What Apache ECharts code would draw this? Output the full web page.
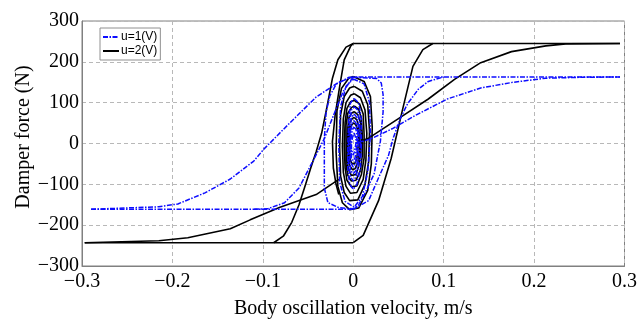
<!DOCTYPE html>
<html>
<head>
<meta charset="utf-8">
<script src="https://cdn.jsdelivr.net/npm/echarts@6/dist/echarts.min.js"></script>
<style>
  html, body { margin: 0; padding: 0; background: #fff; }
  #chart { width: 640px; height: 324px; }
</style>
</head>
<body>
<div id="chart"></div>
<script>
// Damper force vs. body oscillation velocity for two control voltages.
const seriesNames = ['u=1(V)', 'u=2(V)'];
const xTicks = [-0.3, -0.2, -0.1, 0, 0.1, 0.2, 0.3];
const yTicks = [-300, -200, -100, 0, 100, 200, 300];

// u = 2 V branches (velocity m/s, force N)
const blackStart = [[0.003, 2], [0.017, 13], [0.05, 61], [0.083, 109], [0.112, 157], [0.141, 198], [0.175, 225], [0.213, 239], [0.235, 244], [0.295, 245]];
const blackTop = [[0.295, 245], [0, 245]];
const blackFallOuter = [[0, 245], [-0.008, 236], [-0.017, 205], [-0.023, 160], [-0.029, 90], [-0.035, 25], [-0.041, -20], [-0.047, -60], [-0.054, -109], [-0.060, -150], [-0.068, -193], [-0.077, -226], [-0.088, -243]];
const blackFallInner = [[0, 245], [-0.003, 238], [-0.010, 205], [-0.015, 140], [-0.020, 70], [-0.023, 5], [-0.022, -60], [-0.019, -100], [-0.016, -125]];
const blackBottom = [[-0.297, -243], [0, -243]];
const blackRiseOuter = [[0, -243], [0.011, -225], [0.028, -140], [0.042, -36], [0.054, 78], [0.066, 189], [0.077, 230], [0.088, 245]];
const blackReturn = [[-0.297, -243], [-0.215, -238], [-0.183, -231], [-0.136, -209], [-0.114, -187], [-0.081, -156], [-0.041, -125], [-0.016, -88]];
const blackCoreLoops = [
  [[0, 164], [0.012, 152], [0.019, 115], [0.021, 40], [0.020, -50], [0.016, -115], [0.006, -158], [-0.004, -162], [-0.012, -145], [-0.017, -105], [-0.019, -20], [-0.018, 80], [-0.013, 135], [-0.005, 160], [0, 164]],
  [[0.001, 140], [0.010, 128], [0.016, 95], [0.018, 30], [0.017, -45], [0.013, -100], [0.005, -138], [-0.004, -140], [-0.010, -120], [-0.014, -80], [-0.015, -10], [-0.014, 70], [-0.010, 115], [-0.004, 136], [0.001, 140]],
  [[0.001, 122], [0.008, 112], [0.013, 82], [0.015, 25], [0.014, -40], [0.011, -88], [0.004, -120], [-0.003, -122], [-0.008, -105], [-0.011, -70], [-0.012, -8], [-0.011, 60], [-0.008, 100], [-0.003, 118], [0.001, 122]],
  [[0.001, 106], [0.007, 97], [0.011, 72], [0.012, 22], [0.012, -35], [0.009, -76], [0.004, -104], [-0.002, -106], [-0.007, -90], [-0.009, -60], [-0.010, -6], [-0.009, 52], [-0.007, 86], [-0.003, 102], [0.001, 106]],
  [[0.001, 92], [0.006, 84], [0.009, 62], [0.010, 20], [0.010, -30], [0.008, -66], [0.003, -90], [-0.002, -92], [-0.006, -78], [-0.008, -52], [-0.008, -5], [-0.008, 45], [-0.006, 74], [-0.002, 88], [0.001, 92]],
  [[0.001, 78], [0.005, 71], [0.008, 52], [0.009, 16], [0.008, -26], [0.006, -56], [0.003, -76], [-0.002, -78], [-0.005, -66], [-0.007, -44], [-0.007, -4], [-0.006, 38], [-0.005, 62], [-0.002, 74], [0.001, 78]],
  [[0.001, 64], [0.004, 58], [0.006, 43], [0.007, 13], [0.007, -21], [0.005, -46], [0.002, -62], [-0.001, -64], [-0.004, -54], [-0.005, -36], [-0.006, -3], [-0.005, 31], [-0.004, 51], [-0.001, 61], [0.001, 64]],
  [[0.001, 50], [0.003, 45], [0.005, 33], [0.006, 10], [0.005, -16], [0.004, -36], [0.002, -48], [-0.001, -50], [-0.003, -42], [-0.004, -28], [-0.004, -2], [-0.004, 24], [-0.003, 40], [-0.001, 48], [0.001, 50]]
];

// u = 1 V branches
const blueStart = [[0.003, 0], [0.02, 12], [0.043, 36], [0.068, 68], [0.104, 109], [0.141, 136], [0.177, 150], [0.213, 160], [0.25, 162], [0.295, 163]];
const blueTop = [[0.295, 163], [0, 163]];
const blueFall = [[0, 163], [-0.011, 128], [-0.022, 68], [-0.032, 12], [-0.043, -36], [-0.060, -109], [-0.076, -145], [-0.095, -160], [-0.11, -161]];
const blueBottom = [[-0.29, -161], [0, -161]];
const blueRise = [[0, -161], [0.017, -140], [0.028, -84], [0.039, -29], [0.044, 12], [0.052, 61], [0.06, 97], [0.072, 133], [0.083, 152], [0.1, 163]];
const blueReturn = [[-0.29, -161], [-0.215, -155], [-0.194, -148], [-0.164, -121], [-0.136, -87], [-0.11, -43], [-0.099, -14], [-0.073, 44], [-0.041, 114], [-0.016, 150], [0, 163]];
const blueCoreLoops = [
  [[0, 162], [0.026, 159], [0.031, 148], [0.033, 120], [0.033, 77], [0.030, 5], [0.023, -75], [0.012, -126], [0.006, -150], [0, -160], [-0.016, -157], [-0.028, -145], [-0.032, -109], [-0.032, -60], [-0.032, 12], [-0.030, 77], [-0.026, 116], [-0.019, 145], [-0.005, 162], [0, 162]],
  [[0, 158], [0.012, 146], [0.018, 100], [0.019, 20], [0.016, -70], [0.010, -130], [0.001, -156], [-0.009, -142], [-0.015, -95], [-0.016, 0], [-0.014, 90], [-0.008, 140], [0, 158]],
  [[0.001, 110], [0.006, 100], [0.009, 60], [0.009, 0], [0.008, -60], [0.004, -100], [0, -112], [-0.004, -100], [-0.006, -60], [-0.006, 0], [-0.005, 60], [-0.003, 100], [0.001, 110]],
  [[0.001, 90], [0.005, 82], [0.007, 50], [0.008, 0], [0.006, -50], [0.003, -82], [0, -92], [-0.003, -82], [-0.005, -50], [-0.005, 0], [-0.004, 50], [-0.002, 82], [0.001, 90]],
  [[0.001, 72], [0.004, 64], [0.006, 40], [0.006, 0], [0.005, -40], [0.003, -66], [0, -74], [-0.003, -66], [-0.004, -40], [-0.004, 0], [-0.003, 40], [-0.002, 64], [0.001, 72]],
  [[0.001, 56], [0.003, 50], [0.005, 30], [0.005, 0], [0.004, -30], [0.002, -50], [0, -58], [-0.002, -50], [-0.003, -30], [-0.003, 0], [-0.003, 30], [-0.001, 50], [0.001, 56]],
  [[0.001, 40], [0.003, 35], [0.004, 20], [0.004, 0], [0.003, -20], [0.002, -35], [0, -42], [-0.002, -35], [-0.002, -20], [-0.003, 0], [-0.002, 20], [-0.001, 35], [0.001, 40]],
  [[0.001, 26], [0.002, 22], [0.003, 12], [0.003, 0], [0.002, -12], [0.001, -22], [0, -28], [-0.001, -22], [-0.002, -12], [-0.002, 0], [-0.001, 12], [0, 22], [0.001, 26]]
];

const BLUE = '#0d0dff';
const BLACK = '#000000';
const dashDot = [5, 1.5, 1.5, 1.5];

function makeSeries(name, data, color, type, width) {
  return {
    name: name,
    type: 'line',
    data: data,
    symbol: 'none',
    silent: true,
    animation: false,
    clip: true,
    color: color,
    itemStyle: { color: color },
    lineStyle: { color: color, width: width, type: type }
  };
}

const series = [];
[blackStart, blackTop, blackFallOuter, blackFallInner, blackBottom, blackRiseOuter, blackReturn]
  .concat(blackCoreLoops)
  .forEach(d => series.push(makeSeries(seriesNames[1], d, BLACK, 'solid', 1.6)));
[blueStart, blueTop, blueFall, blueBottom, blueRise, blueReturn]
  .concat(blueCoreLoops)
  .forEach(d => series.push(makeSeries(seriesNames[0], d, BLUE, dashDot, 1.5)));

const serif = 'Liberation Serif, Times New Roman, serif';
const minus = s => s.replace('-', '\u2212');

const chart = echarts.init(document.getElementById('chart'), null, { renderer: 'canvas' });
chart.setOption({
  animation: false,
  backgroundColor: '#ffffff',
  grid: { left: 82, right: 8, top: 21, bottom: 55, show: true, borderColor: '#808080', borderWidth: 1, backgroundColor: 'transparent' },
  legend: {
    data: seriesNames,
    orient: 'vertical',
    left: 100,
    top: 28,
    itemWidth: 16,
    itemHeight: 8,
    itemGap: 2,
    padding: [3, 3, 3, 2],
    borderColor: '#909090',
    borderWidth: 1,
    backgroundColor: '#ffffff',
    selectedMode: false,
    itemStyle: { opacity: 0 },
    textStyle: { fontFamily: 'Liberation Sans, Arial, sans-serif', fontSize: 12, color: '#000', padding: [0, 0, 0, -3] }
  },
  xAxis: {
    type: 'value',
    min: xTicks[0],
    max: xTicks[xTicks.length - 1],
    interval: 0.1,
    name: 'Body oscillation velocity, m/s',
    nameLocation: 'middle',
    nameGap: 33,
    nameTextStyle: { fontFamily: serif, fontSize: 20, color: '#000' },
    axisLine: { onZero: false, lineStyle: { color: '#808080' } },
    axisTick: { show: false },
    axisLabel: {
      fontFamily: serif, fontSize: 20, color: '#000', margin: 6,
      formatter: v => { const r = Math.round(v * 10) / 10; return r === 0 ? '0' : minus(r.toFixed(1)); }
    },
    splitLine: { show: true, lineStyle: { color: '#b8b8b8', type: [4, 3], width: 1 } }
  },
  yAxis: {
    type: 'value',
    min: yTicks[0],
    max: yTicks[yTicks.length - 1],
    interval: 100,
    axisLine: { show: true, onZero: false, lineStyle: { color: '#808080' } },
    axisTick: { show: false },
    axisLabel: {
      fontFamily: serif, fontSize: 20, color: '#000', margin: 3,
      formatter: v => minus(String(Math.round(v)))
    },
    splitLine: { show: true, lineStyle: { color: '#b8b8b8', type: [4, 3], width: 1 } }
  },
  graphic: [{
    type: 'text',
    x: 24,
    y: 137,
    rotation: Math.PI / 2,
    style: { text: 'Damper force (N)', fontFamily: serif, fontSize: 20, fill: '#000', align: 'center', verticalAlign: 'middle' }
  }],
  series: series
});
</script>
</body>
</html>
